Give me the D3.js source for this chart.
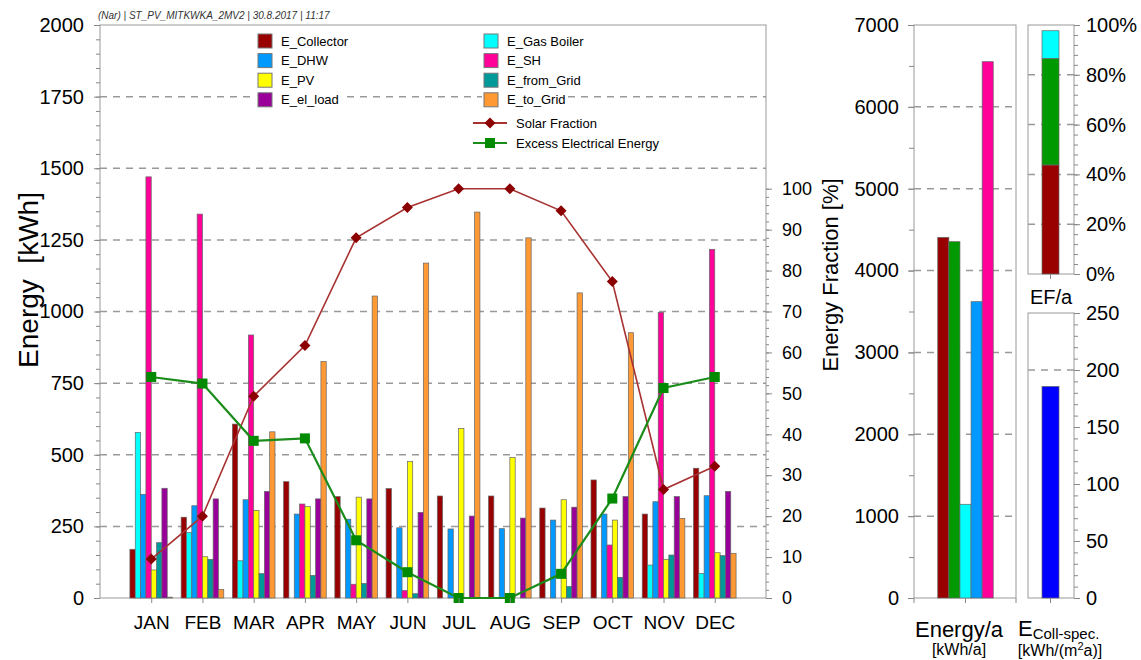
<!DOCTYPE html>
<html>
<head>
<meta charset="utf-8">
<script src="https://cdn.jsdelivr.net/npm/d3@7"></script>
<style>
    body { margin: 0; background: #fff; }
    svg { font-family: "Liberation Sans", Arial, sans-serif; }
    .axis path, .axis line { stroke: #888; }
    .axis text { fill: #000; }
</style>
</head>
<body>
<svg id="chart" width="1141" height="660"></svg>
<script>
// monthly values [kWh]
const months = ["JAN", "FEB", "MAR", "APR", "MAY", "JUN", "JUL", "AUG", "SEP", "OCT", "NOV", "DEC"];
const eCollector = [170, 282, 607, 406, 354, 382, 356, 356, 314, 412, 293, 453];
const eGasBoiler = [578, 228, 130, 0, 0, 0, 0, 0, 0, 0, 115, 86];
const eDHW = [362, 322, 343, 293, 275, 245, 241, 242, 272, 293, 336, 357];
const eSH = [1470, 1340, 918, 328, 48, 26, 0, 0, 0, 185, 997, 1217];
const ePV = [98, 144, 306, 319, 352, 476, 592, 490, 343, 272, 135, 158];
const eFromGrid = [193, 135, 85, 79, 51, 15, 0, 0, 40, 72, 150, 148];
const eElLoad = [383, 346, 372, 346, 346, 299, 286, 279, 317, 354, 354, 372];
const eToGrid = [3, 30, 580, 825, 1054, 1169, 1347, 1257, 1065, 926, 278, 156];

// fractions [%]
const solarFraction = [9.5, 20, 49.3, 61.7, 88, 95.4, 100, 100, 94.6, 77.3, 26.5, 32.2];
const excessElectrical = [54, 52.4, 38.4, 39, 14.1, 6.3, 0, 0, 5.9, 24.3, 51.3, 54];

// annual values
const annualNames = ["E_Collector", "E_Solar", "E_Gas Boiler", "E_DHW", "E_SH"];
const annualValues = [4406, 4353, 1145, 3620, 6552];
const efNames = ["Solar", "Electric", "Gas"];
const efValues = [43.8, 42.8, 11.1];
const collSpec = [185.6];

const leftTicks = [0, 250, 500, 750, 1000, 1250, 1500, 1750, 2000];
const fractionTicks = [0, 10, 20, 30, 40, 50, 60, 70, 80, 90, 100];
const annualTicks = [0, 1000, 2000, 3000, 4000, 5000, 6000, 7000];
const efTicks = [0, 20, 40, 60, 80, 100];
const collTicks = [0, 50, 100, 150, 200, 250];

const series = [
    {name: "E_Collector", values: eCollector, color: "#990000"},
    {name: "E_Gas Boiler", values: eGasBoiler, color: "#00ffff"},
    {name: "E_DHW", values: eDHW, color: "#0099ff"},
    {name: "E_SH", values: eSH, color: "#ff0099"},
    {name: "E_PV", values: ePV, color: "#ffff00"},
    {name: "E_from_Grid", values: eFromGrid, color: "#009999"},
    {name: "E_el_load", values: eElLoad, color: "#990099"},
    {name: "E_to_Grid", values: eToGrid, color: "#ff9933"}
];
const annualColors = ["#990000", "#009900", "#00ffff", "#0099ff", "#ff0099"];
const efColors = ["#990000", "#009900", "#00ffff"];

const svg = d3.select("#chart");
const plotTop = 25, plotBottom = 598;
const gridDash = "7,6";

svg.append("rect").attr("width", 1141).attr("height", 660).attr("fill", "#fff");

// ---------- monthly chart ----------
const x = d3.scaleLinear().domain([0, 13]).range([100, 766]);
const yL = d3.scaleLinear().domain([0, 2000]).range([plotBottom, plotTop]);
const yF = d3.scaleLinear().domain([0, 140]).range([plotBottom, plotTop]);

svg.selectAll("line.grid-left")
    .data(leftTicks.filter(d => d > 0 && d < 2000))
    .enter().append("line")
    .attr("class", "grid-left")
    .attr("x1", x(0)).attr("x2", x(13))
    .attr("y1", d => yL(d)).attr("y2", d => yL(d))
    .attr("stroke", "#999").attr("stroke-width", 1.5)
    .attr("stroke-dasharray", gridDash);

svg.append("rect")
    .attr("x", x(0)).attr("y", plotTop)
    .attr("width", x(13) - x(0)).attr("height", plotBottom - plotTop)
    .attr("fill", "none").attr("stroke", "#999");

// bars
const barW = 5.33;
series.forEach((s, si) => {
    svg.selectAll("rect.bar-" + si)
        .data(s.values)
        .enter().append("rect")
        .attr("class", "bar-" + si)
        .attr("x", (d, i) => x(i + 1) - barW * series.length / 2 + si * barW)
        .attr("y", d => yL(d))
        .attr("width", barW)
        .attr("height", d => yL(0) - yL(d))
        .attr("fill", s.color)
        .attr("stroke", d => d > 0 ? "#666" : "none")
        .attr("stroke-width", 0.7);
});

// lines
const line = d3.line().x((d, i) => x(i + 1)).y(d => yF(d));

svg.append("path")
    .datum(solarFraction)
    .attr("d", line)
    .attr("fill", "none").attr("stroke", "#a83232").attr("stroke-width", 1.6);

svg.append("path")
    .datum(excessElectrical)
    .attr("d", line)
    .attr("fill", "none").attr("stroke", "#1a8c1a").attr("stroke-width", 2.2);

svg.selectAll("path.diamond")
    .data(solarFraction)
    .enter().append("path")
    .attr("class", "diamond")
    .attr("transform", (d, i) => "translate(" + x(i + 1) + "," + yF(d) + ")")
    .attr("d", "M0,-5.5L5.5,0L0,5.5L-5.5,0Z")
    .attr("fill", "#8b0000");

svg.selectAll("rect.sq")
    .data(excessElectrical)
    .enter().append("rect")
    .attr("class", "sq")
    .attr("x", (d, i) => x(i + 1) - 5)
    .attr("y", d => yF(d) - 5)
    .attr("width", 10).attr("height", 10)
    .attr("fill", "#008a00");

// axes
svg.append("g").attr("class", "axis")
    .attr("transform", "translate(" + x(0) + ",0)")
    .call(d3.axisLeft(yL).tickValues(d3.range(0, 2001, 50)).tickSize(4).tickFormat(""))
    .call(g => g.select(".domain").remove());
svg.append("g").attr("class", "axis")
    .attr("transform", "translate(" + x(0) + ",0)")
    .call(d3.axisLeft(yL).tickValues(leftTicks).tickSize(6).tickPadding(10).tickFormat(d3.format("d")))
    .call(g => g.select(".domain").remove())
    .selectAll("text").attr("font-size", 20);

svg.append("g").attr("class", "axis")
    .attr("transform", "translate(" + x(13) + ",0)")
    .call(d3.axisRight(yF).tickValues(d3.range(0, 101, 2)).tickSize(3).tickFormat(""))
    .call(g => g.select(".domain").remove());
svg.append("g").attr("class", "axis")
    .attr("transform", "translate(" + x(13) + ",0)")
    .call(d3.axisRight(yF).tickValues(fractionTicks).tickSize(6).tickPadding(10))
    .call(g => g.select(".domain").remove())
    .selectAll("text").attr("font-size", 18);

svg.append("g").attr("class", "axis")
    .attr("transform", "translate(0," + plotBottom + ")")
    .call(d3.axisBottom(x).tickValues(d3.range(1, 13)).tickSize(5).tickPadding(13).tickFormat(i => months[i - 1]))
    .call(g => g.select(".domain").remove())
    .selectAll("text").attr("font-size", 19);

svg.append("text")
    .attr("transform", "translate(38,280) rotate(-90)")
    .attr("text-anchor", "middle")
    .attr("font-size", 28)
    .text("Energy\u00a0\u00a0[kWh]");

svg.append("text")
    .attr("transform", "translate(838,275) rotate(-90)")
    .attr("text-anchor", "middle")
    .attr("font-size", 22)
    .text("Energy Fraction [%]");

svg.append("text")
    .attr("x", 98).attr("y", 19)
    .attr("font-size", 10).attr("font-style", "italic").attr("fill", "#333")
    .text("(Nar) | ST_PV_MITKWKA_2MV2 | 30.8.2017 | 11:17");

// legend
const legendCols = [
    {x: 258, items: [series[0], series[2], series[4], series[6]]},
    {x: 484, items: [series[1], series[3], series[5], series[7]]}
];
legendCols.forEach(col => {
    col.items.forEach((s, i) => {
        const ly = 41 + i * 19.6;
        const label = svg.append("text")
            .attr("x", col.x + 23).attr("y", ly + 4.5)
            .attr("font-size", 13)
            .text(s.name);
        const bb = label.node().getBBox();
        svg.insert("rect", function() { return label.node(); })
            .attr("x", col.x - 2).attr("y", ly - 9)
            .attr("width", bb.x + bb.width - col.x + 4).attr("height", 18)
            .attr("fill", "#fff");
        svg.append("rect")
            .attr("x", col.x).attr("y", ly - 7)
            .attr("width", 14).attr("height", 14)
            .attr("fill", s.color).attr("stroke", "#777");
    });
});
const lineLegend = [
    {name: "Solar Fraction", color: "#a83232", marker: "diamond", y: 123},
    {name: "Excess Electrical Energy", color: "#1a8c1a", marker: "square", y: 143}
];
lineLegend.forEach(l => {
    svg.append("line")
        .attr("x1", 473).attr("x2", 507).attr("y1", l.y).attr("y2", l.y)
        .attr("stroke", l.color).attr("stroke-width", 2);
    if (l.marker === "diamond") {
        svg.append("path")
            .attr("transform", "translate(490," + l.y + ")")
            .attr("d", "M0,-5.5L5.5,0L0,5.5L-5.5,0Z")
            .attr("fill", "#8b0000");
    } else {
        svg.append("rect")
            .attr("x", 485).attr("y", l.y - 5).attr("width", 10).attr("height", 10)
            .attr("fill", "#008a00");
    }
    svg.append("text")
        .attr("x", 516).attr("y", l.y + 4.5)
        .attr("font-size", 13)
        .text(l.name);
});

// ---------- annual panel ----------
const aLeft = 914, aRight = 1016, aCenter = 965.5;
const yA = d3.scaleLinear().domain([0, 7000]).range([plotBottom, plotTop]);
const xA = d3.scaleBand().domain(annualNames).range([aCenter - 27.75, aCenter + 27.75]);

svg.selectAll("line.grid-a")
    .data(annualTicks.filter(d => d > 0 && d < 7000))
    .enter().append("line")
    .attr("class", "grid-a")
    .attr("x1", aLeft).attr("x2", aRight)
    .attr("y1", d => yA(d)).attr("y2", d => yA(d))
    .attr("stroke", "#999").attr("stroke-width", 1.5)
    .attr("stroke-dasharray", gridDash);

svg.append("rect")
    .attr("x", aLeft).attr("y", plotTop)
    .attr("width", aRight - aLeft).attr("height", plotBottom - plotTop)
    .attr("fill", "none").attr("stroke", "#999");

svg.selectAll("rect.annual")
    .data(annualValues)
    .enter().append("rect")
    .attr("class", "annual")
    .attr("x", (d, i) => xA(annualNames[i]))
    .attr("y", d => yA(d))
    .attr("width", xA.bandwidth())
    .attr("height", d => yA(0) - yA(d))
    .attr("fill", (d, i) => annualColors[i])
    .attr("stroke", "#666").attr("stroke-width", 0.7);

svg.append("g").attr("class", "axis")
    .attr("transform", "translate(" + aLeft + ",0)")
    .call(d3.axisLeft(yA).tickValues(d3.range(0, 7001, 500)).tickSize(5).tickFormat(""))
    .call(g => g.select(".domain").remove());
svg.append("g").attr("class", "axis")
    .attr("transform", "translate(" + aLeft + ",0)")
    .call(d3.axisLeft(yA).tickValues(annualTicks).tickSize(6).tickPadding(9).tickFormat(d3.format("d")))
    .call(g => g.select(".domain").remove())
    .selectAll("text").attr("font-size", 20);

svg.selectAll("line.a-xtick")
    .data([aLeft, aCenter, aRight])
    .enter().append("line")
    .attr("class", "a-xtick")
    .attr("x1", d => d).attr("x2", d => d)
    .attr("y1", plotBottom).attr("y2", plotBottom + 5)
    .attr("stroke", "#888");

svg.append("text")
    .attr("x", 959).attr("y", 637)
    .attr("text-anchor", "middle").attr("font-size", 22)
    .text("Energy/a");
svg.append("text")
    .attr("x", 959).attr("y", 655)
    .attr("text-anchor", "middle").attr("font-size", 16)
    .text("[kWh/a]");

// ---------- energy fraction panel ----------
const eLeft = 1028, eRight = 1074, eCenter = 1050.5, eBottom = 274;
const yE = d3.scaleLinear().domain([0, 100]).range([eBottom, plotTop]);

svg.selectAll("line.grid-e")
    .data(efTicks.filter(d => d > 0 && d < 100))
    .enter().append("line")
    .attr("class", "grid-e")
    .attr("x1", eLeft).attr("x2", eRight)
    .attr("y1", d => yE(d)).attr("y2", d => yE(d))
    .attr("stroke", "#999").attr("stroke-width", 1.5)
    .attr("stroke-dasharray", gridDash);

svg.append("rect")
    .attr("x", eLeft).attr("y", plotTop)
    .attr("width", eRight - eLeft).attr("height", eBottom - plotTop)
    .attr("fill", "none").attr("stroke", "#999");

const efStack = d3.cumsum(efValues);
svg.selectAll("rect.ef")
    .data(efValues)
    .enter().append("rect")
    .attr("class", "ef")
    .attr("x", eCenter - 8.5)
    .attr("y", (d, i) => yE(efStack[i]))
    .attr("width", 17)
    .attr("height", d => yE(0) - yE(d))
    .attr("fill", (d, i) => efColors[i])
    .attr("stroke", "#666").attr("stroke-width", 0.7);

svg.append("g").attr("class", "axis")
    .attr("transform", "translate(" + eRight + ",0)")
    .call(d3.axisRight(yE).tickValues(d3.range(0, 101, 4)).tickSize(4).tickFormat(""))
    .call(g => g.select(".domain").remove());
svg.append("g").attr("class", "axis")
    .attr("transform", "translate(" + eRight + ",0)")
    .call(d3.axisRight(yE).tickValues(efTicks).tickSize(6).tickPadding(6).tickFormat(d => d + "%"))
    .call(g => g.select(".domain").remove())
    .selectAll("text").attr("font-size", 20);

svg.append("line")
    .attr("x1", eCenter).attr("x2", eCenter)
    .attr("y1", eBottom).attr("y2", eBottom + 5)
    .attr("stroke", "#888");

svg.append("text")
    .attr("x", 1051).attr("y", 304)
    .attr("text-anchor", "middle").attr("font-size", 20)
    .text("EF/a");

// ---------- specific collector yield panel ----------
const cTop = 313;
const yC = d3.scaleLinear().domain([0, 250]).range([plotBottom, cTop]);

svg.append("line")
    .attr("x1", eLeft).attr("x2", eRight)
    .attr("y1", yC(200)).attr("y2", yC(200))
    .attr("stroke", "#999").attr("stroke-width", 1.5)
    .attr("stroke-dasharray", gridDash);

svg.append("rect")
    .attr("x", eLeft).attr("y", cTop)
    .attr("width", eRight - eLeft).attr("height", plotBottom - cTop)
    .attr("fill", "none").attr("stroke", "#999");

svg.selectAll("rect.coll")
    .data(collSpec)
    .enter().append("rect")
    .attr("class", "coll")
    .attr("x", eCenter - 8.5)
    .attr("y", d => yC(d))
    .attr("width", 17)
    .attr("height", d => yC(0) - yC(d))
    .attr("fill", "#0000ff")
    .attr("stroke", "#666").attr("stroke-width", 0.7);

svg.append("g").attr("class", "axis")
    .attr("transform", "translate(" + eRight + ",0)")
    .call(d3.axisRight(yC).tickValues(d3.range(0, 251, 10)).tickSize(4).tickFormat(""))
    .call(g => g.select(".domain").remove());
svg.append("g").attr("class", "axis")
    .attr("transform", "translate(" + eRight + ",0)")
    .call(d3.axisRight(yC).tickValues(collTicks).tickSize(6).tickPadding(6))
    .call(g => g.select(".domain").remove())
    .selectAll("text").attr("font-size", 20);

svg.append("line")
    .attr("x1", eCenter).attr("x2", eCenter)
    .attr("y1", plotBottom).attr("y2", plotBottom + 5)
    .attr("stroke", "#888");

const collLabel = svg.append("text")
    .attr("x", 1018).attr("y", 636)
    .attr("font-size", 22);
collLabel.append("tspan").text("E");
collLabel.append("tspan").attr("font-size", 15).attr("dy", 3).text("Coll-spec.");

const unitLabel = svg.append("text")
    .attr("x", 1060).attr("y", 656)
    .attr("text-anchor", "middle").attr("font-size", 16);
unitLabel.append("tspan").text("[kWh/(m");
unitLabel.append("tspan").attr("font-size", 11).attr("dy", -6).text("2");
unitLabel.append("tspan").attr("dy", 6).text("a)]");
</script>
</body>
</html>
